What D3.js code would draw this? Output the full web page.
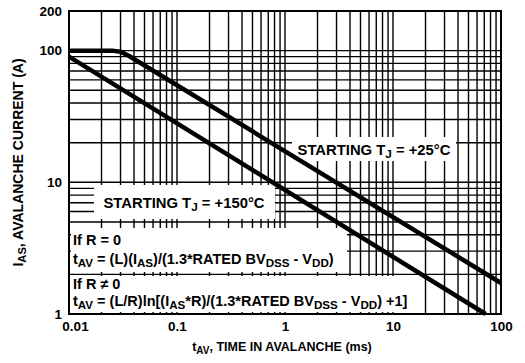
<!DOCTYPE html>
<html>
<head>
<meta charset="utf-8">
<script src="https://cdn.jsdelivr.net/npm/d3@7"></script>
<style>
  body { margin: 0; background: #fff; }
  text { font-family: "Liberation Sans", Arial, sans-serif; font-weight: bold; fill: #000; }
</style>
</head>
<body>
<div class="chart"></div>
<script>
// Avalanche current vs time in avalanche (log-log)

// Data
var xTickValues = [0.01, 0.1, 1, 10, 100];
var xTickLabels = ["0.01", "0.1", "1", "10", "100"];
var yTickValues = [1, 10, 100, 200];
var yTickLabels = ["1", "10", "100", "200"];

// Starting TJ = +25C curve (time ms, current A)
var tj25Time = [0.01, 0.025, 0.03, 0.036, 100];
var tj25Current = [100, 100, 98, 91, 1.72];

// Starting TJ = +150C curve
var tj150Time = [0.01, 72];
var tj150Current = [90, 1];

var svgWidth = 525;
var svgHeight = 363;

var svg = d3.select(".chart")
  .append("svg")
  .attr("width", svgWidth)
  .attr("height", svgHeight);

// Scales
var xScale = d3.scaleLog().domain([0.01, 100]).range([69, 501]);
var yScale = d3.scaleLog().domain([1, 200]).range([314, 11]);

// Grid
var gridGroup = svg.append("g");
gridGroup.selectAll(".vgrid")
  .data(xScale.ticks())
  .enter()
  .append("line")
  .attr("x1", d => xScale(d))
  .attr("x2", d => xScale(d))
  .attr("y1", yScale(1))
  .attr("y2", yScale(200))
  .attr("stroke", "#000")
  .attr("stroke-width", 1.4);

gridGroup.selectAll(".hgrid")
  .data(yScale.ticks().filter(d => d <= 100))
  .enter()
  .append("line")
  .attr("x1", xScale(0.01))
  .attr("x2", xScale(100))
  .attr("y1", d => yScale(d))
  .attr("y2", d => yScale(d))
  .attr("stroke", "#000")
  .attr("stroke-width", 1.4);

// White boxes behind the annotations
var boxes = [
  [292, 137, 164, 24],
  [94, 185, 181, 34],
  [71, 228, 276, 44],
  [71, 276, 342, 36]
];
svg.selectAll(".box")
  .data(boxes)
  .enter()
  .append("rect")
  .attr("x", d => d[0])
  .attr("y", d => d[1])
  .attr("width", d => d[2])
  .attr("height", d => d[3])
  .attr("fill", "#fff");

// Frame
svg.append("rect")
  .attr("x", xScale(0.01))
  .attr("y", yScale(200))
  .attr("width", xScale(100) - xScale(0.01))
  .attr("height", yScale(1) - yScale(200))
  .attr("fill", "none")
  .attr("stroke", "#000")
  .attr("stroke-width", 2);

// Curves
var line = d3.line()
  .x(d => xScale(d[0]))
  .y(d => yScale(d[1]));

var curves = [
  d3.zip(tj25Time, tj25Current),
  d3.zip(tj150Time, tj150Current)
];

svg.selectAll(".curve")
  .data(curves)
  .enter()
  .append("path")
  .attr("d", line)
  .attr("fill", "none")
  .attr("stroke", "#000")
  .attr("stroke-width", 4.5)
  .attr("stroke-linejoin", "round");

// Axes
var bottomAxis = d3.axisBottom(xScale)
  .tickValues(xTickValues)
  .tickFormat((d, i) => xTickLabels[i])
  .tickSize(0)
  .tickPadding(7);
var xAxis = svg.append("g")
  .attr("transform", `translate(0, ${yScale(1)})`)
  .call(bottomAxis);
xAxis.select(".domain").remove();
xAxis.selectAll("text")
  .attr("font-size", "13.5px")
  .attr("font-family", "Liberation Sans, Arial, sans-serif")
  .attr("font-weight", "bold");
xAxis.selectAll("text").filter(d => d === 0.01).attr("dx", 6);

var leftAxis = d3.axisLeft(yScale)
  .tickValues(yTickValues)
  .tickFormat((d, i) => yTickLabels[i])
  .tickSize(0)
  .tickPadding(7);
var yAxis = svg.append("g")
  .attr("transform", `translate(${xScale(0.01)}, 0)`)
  .call(leftAxis);
yAxis.select(".domain").remove();
yAxis.selectAll("text")
  .attr("font-size", "13.5px")
  .attr("font-family", "Liberation Sans, Arial, sans-serif")
  .attr("font-weight", "bold");

// Helper for text with subscripts: parts = [[text, isSub], ...]
function richText(g, x, y, parts, size, anchor) {
  var t = g.append("text")
    .attr("x", x)
    .attr("y", y)
    .attr("font-size", size + "px")
    .attr("text-anchor", anchor || "start");
  parts.forEach(function(p) {
    var s = t.append("tspan").text(p[0]);
    if (p[1]) {
      s.attr("font-size", (size * 0.8) + "px").attr("baseline-shift", "-25%");
    }
  });
  return t;
}

// Annotations
richText(svg, 374, 155, [["STARTING T", false], ["J", true], [" = +25°C", false]], 14.8, "middle");
richText(svg, 184, 208, [["STARTING T", false], ["J", true], [" = +150°C", false]], 14.8, "middle");

richText(svg, 73, 245, [["If R = 0", false]], 14.5);
richText(svg, 73, 264, [["t", false], ["AV", true], [" = (L)(I", false], ["AS", true],
  [")/(1.3*RATED BV", false], ["DSS", true], [" - V", false], ["DD", true], [")", false]], 14.5);
richText(svg, 73, 289, [["If R ≠ 0", false]], 14.5);
richText(svg, 73, 306, [["t", false], ["AV", true], [" = (L/R)ln[(I", false], ["AS", true],
  ["*R)/(1.3*RATED BV", false], ["DSS", true], [" - V", false], ["DD", true], [") +1]", false]], 14.5);

// Axis titles
richText(svg, 282, 351, [["t", false], ["AV", true], [", TIME IN AVALANCHE (ms)", false]], 12.5, "middle");

var yTitle = svg.append("g")
  .attr("transform", `translate(23, ${(yScale(1) + yScale(200)) / 2}) rotate(-90)`);
richText(yTitle, 0, 0, [["I", false], ["AS", true], [", AVALANCHE CURRENT (A)", false]], 14, "middle");
</script>
</body>
</html>
